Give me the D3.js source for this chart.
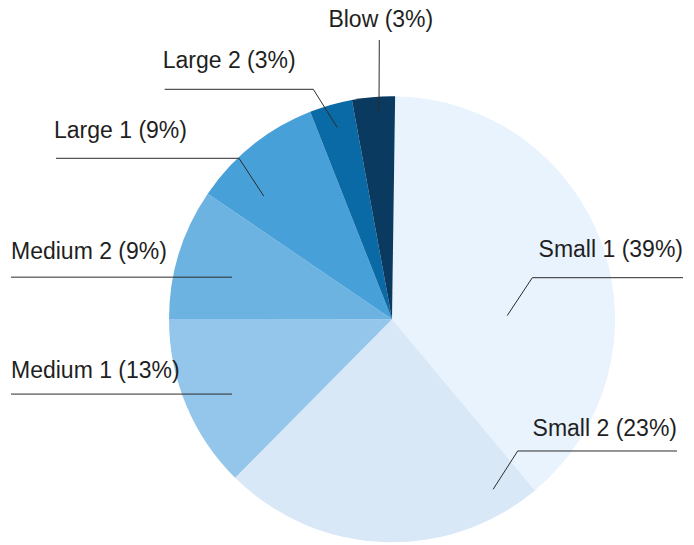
<!DOCTYPE html>
<html>
<head>
<meta charset="utf-8">
<script src="https://cdn.jsdelivr.net/npm/d3@7"></script>
<style>
  html, body { margin: 0; padding: 0; background: #fff; }
</style>
</head>
<body>
<div id="chart"></div>
<script>
// Slice data, clockwise from 12 o'clock
const categories = ["Small 1", "Small 2", "Medium 1", "Medium 2", "Large 1", "Large 2", "Blow"];
const shares = [38.7, 23.5, 12.6, 9.5, 9.5, 3.1, 3.1];
const percentLabels = ["39%", "23%", "13%", "9%", "9%", "3%", "3%"];
const colors = ["#e8f3fd", "#d9e8f7", "#93c6ea", "#6db3e2", "#48a0d8", "#0a6aa6", "#0a3a60"];

const width = 694;
const height = 545;
const cx = 392;
const cy = 319.3;
const radius = 223;
const startOffset = 0.8 * Math.PI / 180; // first slice starts just past 12 o'clock

// Label layout: where the leader touches the slice (t = fraction across the slice,
// rf = fraction of radius), the elbow (offset from centre) and the tail end.
const labelLayout = [
  { t: 0.627, rf: 0.517, elbow: [140.3, -41.6], tail: 291, anchor: "end", dy: -21 },
  { t: 0.108, rf: 0.887, elbow: [125.7, 131.7], tail: 285, anchor: "end", dy: -15 },
  { t: 0.446, rf: 0.792, elbow: null, tail: -381, anchor: "start", dy: -16.5 },
  { t: 0.429, rf: 0.742, elbow: null, tail: -381, anchor: "start", dy: -18.5 },
  { t: 0.28, rf: 0.797, elbow: [-153, -161], tail: -336, anchor: "start", dy: -20, dx: -2 },
  { t: 0.5, rf: 0.895, elbow: [-78.7, -230], tail: -227.3, anchor: "start", dy: -21, dx: -2 },
  { t: 0.606, rf: 0.931, elbow: [-12.7, -279.3], tail: null, anchor: "middle", dy: -13.3, dx: 1.5 }
];

const data = categories.map((c, i) => ({ name: c, value: shares[i], pct: percentLabels[i], color: colors[i] }));

const pie = d3.pie()
  .sort(null)
  .value(d => d.value)
  .startAngle(startOffset)
  .endAngle(2 * Math.PI + startOffset);

const arc = d3.arc().innerRadius(0).outerRadius(radius);

const svg = d3.select("#chart")
  .append("svg")
  .attr("width", width)
  .attr("height", height)
  .attr("viewBox", [0, 0, width, height])
  .attr("style", "display:block; font: 23px 'Liberation Sans', Arial, sans-serif;");

const g = svg.append("g").attr("transform", `translate(${cx},${cy})`);

const arcs = pie(data);

g.selectAll("path.slice")
  .data(arcs)
  .join("path")
  .attr("class", "slice")
  .attr("d", arc)
  .attr("fill", d => d.data.color);

// Leader lines and labels
const polar = (a, r) => [Math.sin(a) * r, -Math.cos(a) * r];

arcs.forEach((d, i) => {
  const lay = labelLayout[i];
  const a = d.startAngle + (d.endAngle - d.startAngle) * lay.t;
  const inner = polar(a, radius * lay.rf);
  const pts = [inner];
  let end;
  if (lay.elbow) pts.push(lay.elbow);
  const last = pts[pts.length - 1];
  if (lay.tail !== null) {
    end = [lay.tail, last[1]];
    pts.push(end);
  } else {
    end = last;
  }

  g.append("path")
    .attr("d", d3.line()(pts))
    .attr("fill", "none")
    .attr("stroke", "#2b2b2b")
    .attr("stroke-width", 1);

  g.append("text")
    .attr("x", end[0] + (lay.dx || 0))
    .attr("y", end[1] + lay.dy)
    .attr("text-anchor", lay.anchor)
    .attr("fill", "#1f1f1f")
    .text(`${d.data.name} (${d.data.pct})`);
});
</script>
</body>
</html>
